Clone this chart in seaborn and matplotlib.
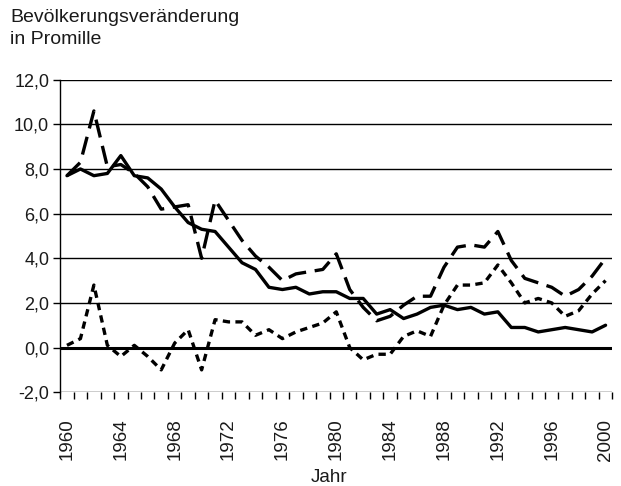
import numpy as np
import pandas as pd
import matplotlib
matplotlib.use("Agg")
import matplotlib.pyplot as plt
from matplotlib.ticker import FixedLocator, FuncFormatter
import seaborn as sns

# Jahre und Werte (Promille)
jahre = list(range(1960, 2001))

geburtenbilanz = [7.7, 8.0, 7.7, 7.8, 8.6, 7.7, 7.6, 7.1, 6.3, 5.6,
                  5.3, 5.2, 4.5, 3.8, 3.5, 2.7, 2.6, 2.7, 2.4, 2.5,
                  2.5, 2.2, 2.2, 1.5, 1.7, 1.3, 1.5, 1.8, 1.9, 1.7,
                  1.8, 1.5, 1.6, 0.9, 0.9, 0.7, 0.8, 0.9, 0.8, 0.7,
                  1.0]

gesamt = [7.7, 8.3, 10.6, 8.1, 8.2, 7.8, 7.2, 6.2, 6.3, 6.4,
          4.0, 6.6, 5.7, 4.8, 4.1, 3.6, 3.0, 3.3, 3.4, 3.5,
          4.2, 2.6, 1.8, 1.2, 1.4, 1.9, 2.3, 2.3, 3.6, 4.5,
          4.6, 4.5, 5.2, 3.9, 3.1, 2.9, 2.7, 2.3, 2.6, 3.2,
          4.0]

wanderungsbilanz = [0.1, 0.4, 2.8, 0.1, -0.4, 0.1, -0.4, -1.0, 0.2, 0.8,
                    -1.0, 1.25, 1.15, 1.15, 0.55, 0.8, 0.4, 0.7, 0.9, 1.1,
                    1.6, 0.0, -0.55, -0.3, -0.3, 0.5, 0.75, 0.5, 1.9, 2.8,
                    2.8, 2.9, 3.7, 2.9, 2.0, 2.2, 2.0, 1.4, 1.65, 2.4,
                    3.0]

y_ticks = [-2, 0, 2, 4, 6, 8, 10, 12]
x_labels = list(range(1960, 2001, 4))

df = pd.DataFrame({"Jahr": jahre, "Geburtenbilanz": geburtenbilanz,
                   "Gesamt": gesamt, "Wanderungsbilanz": wanderungsbilanz})

sns.set_theme(style="white")
plt.rcParams["font.family"] = ["Liberation Sans", "DejaVu Sans"]

fig = plt.figure(figsize=(6.21, 4.86), dpi=100)
ax = fig.add_axes([0.097, 0.193, 0.889, 0.643])

# Gitterlinien
for v in y_ticks:
    ax.axhline(v, color="black", lw=2.2 if v == 0 else 1.0, zorder=1)

sns.lineplot(data=df, x="Jahr", y="Geburtenbilanz", ax=ax, color="black",
             lw=2.4, zorder=3)
l2 = sns.lineplot(data=df, x="Jahr", y="Gesamt", ax=ax, color="black",
                  lw=2.4, zorder=3).lines[-1]
l2.set_dashes([5.5, 2.6])
l3 = sns.lineplot(data=df, x="Jahr", y="Wanderungsbilanz", ax=ax,
                  color="black", lw=2.4, zorder=3).lines[-1]
l3.set_dashes([2.2, 1.6])

ax.set_xlim(1959.5, 2000.5)
ax.set_ylim(-2, 12)
for s in ["top", "right", "bottom"]:
    ax.spines[s].set_visible(False)
ax.spines["left"].set_color("black")
ax.spines["left"].set_linewidth(1.0)

ax.yaxis.set_major_locator(FixedLocator(y_ticks))
ax.yaxis.set_major_formatter(FuncFormatter(lambda v, p: f"{v:.1f}".replace(".", ",")))
ax.tick_params(axis="y", left=True, length=5, width=1, color="black",
               labelsize=13, labelcolor="#1a1a1a", pad=3)

ax.xaxis.set_major_locator(FixedLocator(x_labels))
ax.xaxis.set_minor_locator(FixedLocator(np.arange(1959.5, 2001, 1)))
ax.tick_params(axis="x", which="major", bottom=False, length=0,
               labelsize=13.5, labelrotation=90, labelcolor="#1a1a1a", pad=19)
ax.tick_params(axis="x", which="minor", bottom=True, length=5, width=1,
               color="black")

ax.set_xlabel("")
ax.set_ylabel("")
ax.grid(False)

fig.text(0.53, 0.018, "Jahr", fontsize=13.5, color="#1a1a1a",
         ha="center", va="center")
fig.text(0.016, 0.982, "Bevölkerungsveränderung\nin Promille", fontsize=14,
         color="#1a1a1a", va="top", ha="left", linespacing=1.4)

fig.savefig("out.png", dpi=100)
